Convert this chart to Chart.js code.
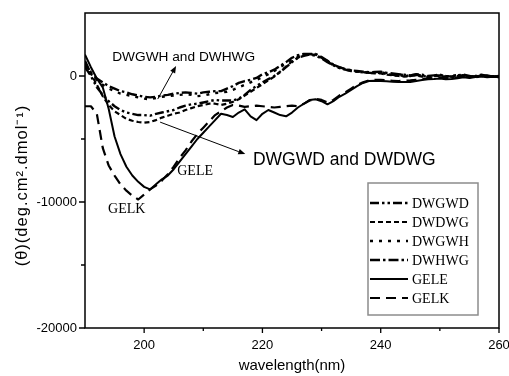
<!DOCTYPE html>
<html>
<head>
<meta charset="utf-8">
<script src="https://cdn.jsdelivr.net/npm/chart.js@4/dist/chart.umd.min.js"></script>
<style>
  html, body { margin: 0; padding: 0; background: #fff; }
  #wrap { width: 509px; height: 376px; position: relative; }
</style>
</head>
<body>
<div id="wrap"><canvas id="cd"></canvas></div>
<script>
// Wavelength grid (nm)
const wavelength = [
  190, 191, 192, 193, 194, 195, 196, 197, 198, 199,
  200, 201, 202, 203, 204, 205, 206, 207, 208, 209,
  210, 211, 212, 213, 214, 215, 216, 217, 218, 219,
  220, 221, 222, 223, 224, 225, 226, 227, 228, 229,
  230, 231, 232, 233, 234, 235, 236, 237, 238, 239,
  240, 241, 242, 243, 244, 245, 246, 247, 248, 249,
  250, 251, 252, 253, 254, 255, 256, 257, 258, 259,
  260
];

// Mean residue ellipticity (deg.cm2.dmol-1) for each peptide
const DWGWD = [
  700, 0, -900, -1500, -2000, -2400, -2700, -2900, -3000, -3100,
  -3100, -3150, -3000, -2900, -2800, -2700, -2500, -2350, -2250, -2200,
  -2100, -2000, -1900, -1950, -1950, -1950, -1800, -1500, -1100, -800,
  -500, -250, 0, 300, 700, 1100, 1450, 1600, 1700, 1600,
  1400, 1100, 850, 650, 500, 400, 350, 300, 250, 250,
  250, 150, 100, 50, 0, 50, 100, 0, -50, 0,
  50, 0, -100, 0, 50, -50, 0, 100, 0, -50,
  0
];
const DWDWG = [
  900, 200, -700, -1600, -2300, -2800, -3100, -3400, -3550, -3650,
  -3700, -3650, -3500, -3300, -3150, -3000, -2900, -2700, -2550, -2400,
  -2300, -2200, -2200, -2300, -2200, -2050, -1850, -1550, -1250, -950,
  -650, -350, -50, 350, 750, 1150, 1450, 1650, 1750, 1650,
  1450, 1200, 900, 700, 550, 450, 350, 300, 250, 200,
  200, 100, 50, 0, -50, 0, 50, -50, -100, 0,
  0, -50, -50, 50, 0, -100, -50, 50, -50, 0,
  -50
];
const DWGWH = [
  1000, 300, -300, -700, -1000, -1200, -1400, -1500, -1600, -1700,
  -1800, -1850, -1750, -1650, -1600, -1550, -1500, -1450, -1500, -1600,
  -1550, -1450, -1350, -1300, -1250, -1100, -900, -700, -500, -300,
  -100, 150, 400, 700, 1000, 1300, 1550, 1700, 1750, 1700,
  1450, 1150, 850, 650, 500, 420, 370, 320, 280, 300,
  300, 200, 100, 150, 50, 0, 100, 50, -50, 0,
  50, -50, 0, 100, 50, -50, 0, 50, -50, 0,
  -100
];
const DWHWG = [
  1200, 200, -200, -500, -800, -1000, -1200, -1300, -1450, -1550,
  -1650, -1700, -1650, -1550, -1500, -1400, -1350, -1300, -1350, -1400,
  -1300, -1250, -1200, -1200, -1000, -800, -550, -400, -300, -150,
  150, 300, 500, 800, 1100, 1450, 1650, 1750, 1750, 1750,
  1500, 1200, 900, 700, 550, 450, 400, 350, 300, 320,
  350, 250, 200, 150, 100, 50, 150, 100, 0, 50,
  100, 0, -50, 50, 100, 0, -100, 0, 50, -50,
  0
];
const GELE = [
  1700, 700, -200, -900, -2600, -4800, -6200, -7200, -7900, -8400,
  -8800, -9000, -8600, -8200, -7900, -7400, -6800, -6200, -5600, -5000,
  -4500, -4000, -3500, -3000, -3100, -3250, -2900, -2650, -3200, -3500,
  -3000, -2700, -2900, -3100, -3200, -2900, -2500, -2200, -1900, -1850,
  -2000, -2250, -2000, -1650, -1400, -1100, -800, -550, -400, -380,
  -400, -420, -450, -480, -470, -480, -400, -320, -260, -240,
  -200, -250, -240, -180, -100, -150, -80, -40, -100, -60,
  -80
];
const GELK = [
  -2400, -2400, -3000, -5700, -7100, -7900, -8600, -9100, -9500, -9800,
  -9400, -9000, -8700, -8300, -7800, -7200, -6500, -5900, -5200, -4600,
  -4100, -3600, -3100, -2800, -2500, -2300, -2350, -2450, -2400, -2350,
  -2400, -2450, -2500, -2450, -2400, -2350, -2400, -2200, -1950, -1800,
  -1900, -2100, -1900, -1550, -1300, -1000, -700, -500, -350, -300,
  -300, -350, -380, -400, -380, -350, -300, -250, -200, -150,
  -120, -180, -150, -100, -50, -100, -30, 0, -60, -20,
  -40
];

// Axis tick labels
const xTickLabels = [200, 220, 240, 260];
const yTickLabels = [0, -10000, -20000];

const seriesNames = ['DWGWD', 'DWDWG', 'DWGWH', 'DWHWG', 'GELE', 'GELK'];
const seriesValues = [DWGWD, DWDWG, DWGWH, DWHWG, GELE, GELK];
const seriesDash = [[9, 3, 2.5, 3, 2.5, 3], [5, 3], [3, 6], [10, 3, 2.5, 3], [], [10, 6]];
const seriesWidth = [2.4, 2.2, 2.4, 2.4, 2, 2.2];

const SANS = '"Liberation Sans", Arial, sans-serif';
const SERIF = '"Liberation Serif", "Times New Roman", serif';
const yTitle = '(θ)(deg.cm².dmol⁻¹)';

// Text labels and arrows placed in data coordinates
const notes = [
  { text: 'DWGWH and DWHWG', at: [194.6, 1500], font: '13.7px ' + SANS },
  { text: 'DWGWD and DWDWG', at: [218.4, -6700], font: '17.5px ' + SANS },
  { text: 'GELE', at: [205.6, -7560], font: '14px ' + SERIF },
  { text: 'GELK', at: [193.9, -10580], font: '14px ' + SERIF }
];
const arrows = [
  { from: [202.3, -1830], to: [205.4, 800] },
  { from: [202.7, -3660], to: [217.1, -6200] }
];

const datasets = seriesNames.map((name, i) => ({
  label: name,
  data: wavelength.map((w, j) => ({ x: w, y: seriesValues[i][j] })),
  borderColor: '#000',
  backgroundColor: '#000',
  borderWidth: seriesWidth[i],
  borderDash: seriesDash[i],
  borderCapStyle: 'butt',
  borderJoinStyle: 'round',
  pointRadius: 0,
  tension: 0,
  fill: false
}));

// Frame around the plot, major/minor tick marks and the rotated y title
const frameAndTicks = {
  id: 'frameAndTicks',
  afterDraw(chart) {
    const { ctx, chartArea: a, scales: { x, y } } = chart;
    ctx.save();
    ctx.strokeStyle = '#000';
    ctx.lineWidth = 1.5;
    ctx.setLineDash([]);
    ctx.strokeRect(a.left, a.top, a.right - a.left, a.bottom - a.top);
    ctx.lineWidth = 1.3;
    ctx.beginPath();
    x.ticks.forEach(t => {
      if (t.value <= x.min) return;
      const px = x.getPixelForValue(t.value);
      const len = xTickLabels.includes(t.value) ? 5 : 3;
      ctx.moveTo(px, a.bottom);
      ctx.lineTo(px, a.bottom + len);
    });
    y.ticks.forEach(t => {
      if (t.value >= y.max) return;
      const py = y.getPixelForValue(t.value);
      const len = yTickLabels.includes(t.value) ? 6 : 4;
      ctx.moveTo(a.left, py);
      ctx.lineTo(a.left - len, py);
    });
    ctx.stroke();

    ctx.translate(22, (a.top + a.bottom) / 2 + 15);
    ctx.rotate(-Math.PI / 2);
    ctx.fillStyle = '#000';
    ctx.font = '16.5px ' + SANS;
    ctx.letterSpacing = '1px';
    ctx.textAlign = 'center';
    ctx.textBaseline = 'middle';
    ctx.fillText(yTitle, 0, 0);
    ctx.restore();
  }
};

// Annotations: series group labels with pointer arrows
const annotations = {
  id: 'annotations',
  afterDatasetsDraw(chart) {
    const { ctx, scales: { x, y } } = chart;
    ctx.save();
    ctx.fillStyle = '#000';
    ctx.textBaseline = 'middle';
    ctx.textAlign = 'left';
    notes.forEach(n => {
      ctx.font = n.font;
      ctx.fillText(n.text, x.getPixelForValue(n.at[0]), y.getPixelForValue(n.at[1]));
    });
    ctx.strokeStyle = '#000';
    ctx.lineWidth = 1;
    arrows.forEach(ar => {
      const x0 = x.getPixelForValue(ar.from[0]), y0 = y.getPixelForValue(ar.from[1]);
      const x1 = x.getPixelForValue(ar.to[0]), y1 = y.getPixelForValue(ar.to[1]);
      const ang = Math.atan2(y1 - y0, x1 - x0);
      const head = 7, half = 2.8;
      const bx = x1 - head * Math.cos(ang), by = y1 - head * Math.sin(ang);
      ctx.beginPath();
      ctx.moveTo(x0, y0);
      ctx.lineTo(bx, by);
      ctx.stroke();
      ctx.beginPath();
      ctx.moveTo(x1, y1);
      ctx.lineTo(bx - half * Math.sin(ang), by + half * Math.cos(ang));
      ctx.lineTo(bx + half * Math.sin(ang), by - half * Math.cos(ang));
      ctx.closePath();
      ctx.fill();
    });
    ctx.restore();
  }
};

// Boxed legend inside the lower right of the plot
const insideLegend = {
  id: 'insideLegend',
  afterDatasetsDraw(chart) {
    const { ctx, chartArea: a } = chart;
    const left = a.right - 131, top = a.top + 170, w = 110, h = 132;
    ctx.save();
    ctx.fillStyle = '#fff';
    ctx.fillRect(left, top, w, h);
    ctx.strokeStyle = '#8c8c8c';
    ctx.lineWidth = 1.5;
    ctx.setLineDash([]);
    ctx.strokeRect(left, top, w, h);
    chart.data.datasets.forEach((ds, i) => {
      const cy = top + 20 + i * 19;
      ctx.strokeStyle = '#000';
      ctx.lineWidth = ds.borderWidth;
      ctx.setLineDash(ds.borderDash || []);
      ctx.beginPath();
      ctx.moveTo(left + 2, cy);
      ctx.lineTo(left + 40, cy);
      ctx.stroke();
      ctx.setLineDash([]);
      ctx.fillStyle = '#000';
      ctx.font = '14px ' + SERIF;
      ctx.textBaseline = 'middle';
      ctx.textAlign = 'left';
      ctx.fillText(ds.label, left + 44, cy + 1);
    });
    ctx.restore();
  }
};

Chart.defaults.font.family = SANS;
Chart.defaults.color = '#000';

new Chart(document.getElementById('cd'), {
  type: 'line',
  data: { datasets },
  plugins: [frameAndTicks, annotations, insideLegend],
  options: {
    responsive: true,
    maintainAspectRatio: false,
    animation: false,
    layout: { padding: { top: 13, right: 10, left: 0, bottom: 0 } },
    plugins: {
      legend: { display: false },
      tooltip: { enabled: false }
    },
    scales: {
      x: {
        type: 'linear',
        min: 190,
        max: 260,
        grid: { display: false, drawTicks: false },
        border: { display: false },
        ticks: {
          stepSize: 10,
          autoSkip: false,
          maxRotation: 0,
          padding: 10,
          font: { size: 13 },
          color: '#000',
          callback: v => (xTickLabels.includes(v) ? String(v) : '')
        },
        title: {
          display: true,
          text: 'wavelength(nm)',
          font: { size: 15 },
          color: '#000',
          padding: { top: 0, bottom: 1 }
        },
        afterFit: s => { s.height = 48; s.paddingLeft = 0; s.paddingRight = 0; }
      },
      y: {
        type: 'linear',
        min: -20000,
        max: 5000,
        grid: { display: false, drawTicks: false },
        border: { display: false },
        ticks: {
          stepSize: 5000,
          autoSkip: false,
          padding: 8,
          font: { size: 13 },
          color: '#000',
          callback: v => (yTickLabels.includes(v) ? String(v) : '')
        },
        title: { display: false },
        afterFit: s => { s.width = 85; s.paddingTop = 0; s.paddingBottom = 0; }
      }
    }
  }
});
</script>
</body>
</html>
